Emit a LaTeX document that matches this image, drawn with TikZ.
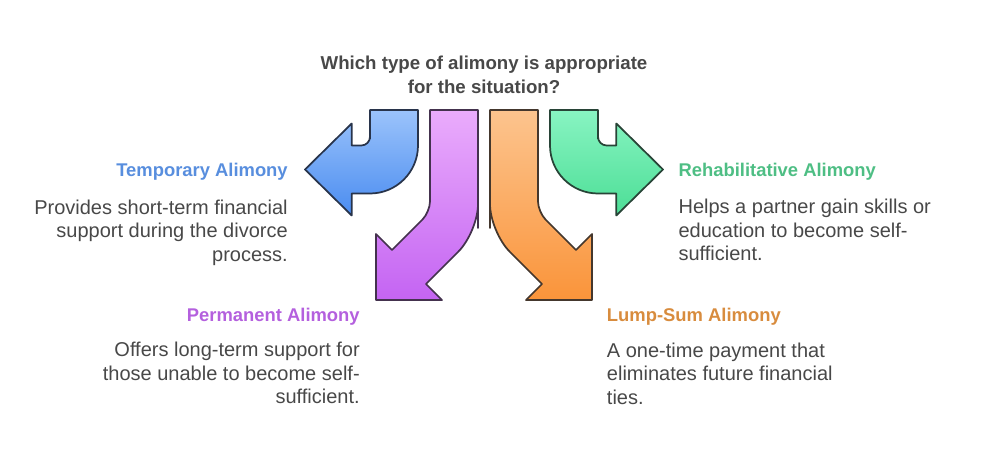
\documentclass[tikz,border=0pt]{standalone}
\usepackage{fontspec}
\setmainfont{Liberation Sans}
\definecolor{blueTop}{RGB}{155,195,251}
\definecolor{blueBot}{RGB}{74,140,240}
\definecolor{blueLine}{RGB}{40,52,75}
\definecolor{purpleTop}{RGB}{234,172,252}
\definecolor{purpleBot}{RGB}{196,100,242}
\definecolor{purpleLine}{RGB}{68,50,78}
\definecolor{orangeTop}{RGB}{252,196,142}
\definecolor{orangeBot}{RGB}{250,148,58}
\definecolor{orangeLine}{RGB}{68,55,45}
\definecolor{greenTop}{RGB}{136,244,194}
\definecolor{greenBot}{RGB}{76,222,150}
\definecolor{greenLine}{RGB}{40,68,55}
\definecolor{blueText}{RGB}{88,142,222}
\definecolor{purpleText}{RGB}{180,96,222}
\definecolor{orangeText}{RGB}{216,140,62}
\definecolor{greenText}{RGB}{78,190,132}
\definecolor{bodyGray}{RGB}{72,72,72}
\tikzset{bigArrow/.style = {line width=1.3pt, line join=round},
         blueArrow/.style = {bigArrow, top color=blueTop, bottom color=blueBot, draw=blueLine},
         purpleArrow/.style = {bigArrow, top color=purpleTop, bottom color=purpleBot, draw=purpleLine},
         orangeArrow/.style = {bigArrow, top color=orangeTop, bottom color=orangeBot, draw=orangeLine},
         greenArrow/.style = {bigArrow, top color=greenTop, bottom color=greenBot, draw=greenLine},
         heading/.style = {inner sep=0pt, font=\bfseries\fontsize{13.8}{16}\selectfont},
         desc/.style = {inner sep=0pt, text=bodyGray, font=\fontsize{15}{17.6}\selectfont}}

\begin{document}
\begin{tikzpicture}[x=0.75pt, y=-0.75pt]
\useasboundingbox (0,0) rectangle (993,452);
\node[inner sep=0pt, anchor=north, align=center, text=bodyGray, font=\bfseries\fontsize{14}{18}\selectfont] (question) at (484,55.5) {Which type of alimony is appropriate\\for the situation?};
% left turn
\draw[blueArrow] (370,110) -- (418,110) -- (418,145.5) arc[start angle=0, end angle=90, radius=48] -- (351.7,193.5) -- (351.7,215.5) -- (305,169.5) -- (351.7,123.5) -- (351.7,145.5) -- (360,145.5) [rounded corners=6.5pt] -- (370,145.5) -- (370,130) [sharp corners] -- (370,110) -- cycle;
% down left
\draw[purpleArrow] (430,110) -- (430,190) [rounded corners=8pt] -- (430,212) -- (410,232) [sharp corners] -- (392,250) -- (376,234) -- (376,300) -- (442,300) -- (426,284) -- (440,270) [rounded corners=21pt] -- (478,232) -- (478,200) [sharp corners] -- (478,110) -- cycle;
% down right
\draw[orangeArrow] (538,110) -- (538,190) [rounded corners=8pt] -- (538,212) -- (558,232) [sharp corners] -- (576,250) -- (592,234) -- (592,300) -- (526,300) -- (542,284) -- (528,270) [rounded corners=21pt] -- (490,232) -- (490,200) [sharp corners] -- (490,110) -- cycle;
% right turn
\draw[greenArrow] (598,110) -- (550,110) -- (550,145.5) arc[start angle=180, end angle=90, radius=48] -- (616.3,193.5) -- (616.3,215.5) -- (663,169.5) -- (616.3,123.5) -- (616.3,145.5) -- (608,145.5) [rounded corners=6.5pt] -- (598,145.5) -- (598,130) [sharp corners] -- (598,110) -- cycle;

\node[heading, text=blueText, anchor=base east] (temporary) at (288,176.7) {Temporary Alimony};
\node[desc, align=right, anchor=north east] (temporaryText) at (288,199.4) {Provides short-term financial\\support during the divorce\\process.};
\node[heading, text=greenText, anchor=base west] (rehab) at (678.3,176.7) {Rehabilitative Alimony};
\node[desc, align=left, anchor=north west] (rehabText) at (678.3,199) {Helps a partner gain skills or\\education to become self-\\sufficient.};
\node[heading, text=purpleText, anchor=base east] (permanent) at (360,321.7) {Permanent Alimony};
\node[desc, align=right, anchor=north east] (permanentText) at (360,342) {Offers long-term support for\\those unable to become self-\\sufficient.};
\node[heading, text=orangeText, anchor=base west] (lumpSum) at (606.7,321.7) {Lump-Sum Alimony};
\node[desc, align=left, anchor=north west] (lumpSumText) at (606.7,342.4) {A one-time payment that\\eliminates future financial\\ties.};
\end{tikzpicture}
\end{document}
